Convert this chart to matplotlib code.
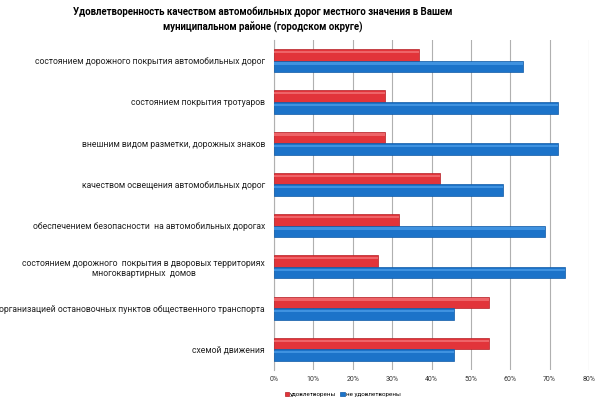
import numpy as np
import matplotlib
matplotlib.use("Agg")
import matplotlib.pyplot as plt

plt.rcParams['font.family'] = ['Roboto', 'DejaVu Sans']

categories = [
    "состоянием дорожного покрытия автомобильных дорог",
    "состоянием покрытия тротуаров",
    "внешним видом разметки, дорожных знаков",
    "качеством освещения автомобильных дорог",
    "обеспечением безопасности  на автомобильных дорогах",
    "состоянием дорожного  покрытия в дворовых территориях\nмногоквартирных  домов",
    "организацией остановочных пунктов общественного транспорта",
    "схемой движения",
]
satisfied = [36.9, 28.1, 28.1, 42.2, 31.8, 26.4, 54.5, 54.5]
not_satisfied = [63.3, 72.0, 72.0, 58.1, 68.7, 73.8, 45.7, 45.7]
ticks = [0, 10, 20, 30, 40, 50, 60, 70, 80]

fig = plt.figure(figsize=(6, 4.01), dpi=100)
ax = fig.add_axes([0.4567, 0.0773, 0.525, 0.8227])

y = np.arange(len(categories))
h = 0.28
ax.barh(y - h / 2, satisfied, height=h, color="#e2343a", edgecolor="#b52026",
        linewidth=0.5, label="удовлетворены", zorder=3)
ax.barh(y + h / 2, not_satisfied, height=h, color="#1c73c9", edgecolor="#105aa6",
        linewidth=0.5, label="не удовлетворены", zorder=3)
# light sheen on upper part of bars
ax.barh(y - h * 0.75, satisfied, height=h * 0.2, color="#ee6468", linewidth=0, zorder=4)
ax.barh(y + h * 0.25, not_satisfied, height=h * 0.2, color="#3f92e0", linewidth=0, zorder=4)

ax.set_ylim(len(categories) - 0.5, -0.5)
ax.set_xlim(0, 80)
ax.set_xticks(ticks)
ax.set_xticklabels([f"{t}%" for t in ticks], fontsize=5, color="#333333")
ax.set_yticks(y)
ax.set_yticklabels(categories, fontsize=6.2, color="#222222", multialignment="center")
ax.tick_params(axis="both", length=0)
ax.tick_params(axis="y", pad=6.5)
ax.tick_params(axis="x", pad=4)
ax.xaxis.grid(True, color="#b0b0b0", linewidth=0.8, zorder=0)
for s in ["top", "right", "bottom"]:
    ax.spines[s].set_visible(False)
ax.spines["left"].set_color("#b0b0b0")

fig.suptitle("Удовлетворенность качеством автомобильных дорог местного значения в Вашем\n"
             "муниципальном районе (городском округе)",
             fontsize=6.9, fontweight="bold", y=0.985, x=0.438, linespacing=1.6)

handles, labels = ax.get_legend_handles_labels()
fig.legend(handles[:2], labels[:2], loc="lower left", bbox_to_anchor=(0.465, -0.005),
           ncol=2, fontsize=4.5, frameon=False, handlelength=0.7, handleheight=0.7,
           handletextpad=0.2, columnspacing=0.6)

fig.savefig("out.png", dpi=100)
